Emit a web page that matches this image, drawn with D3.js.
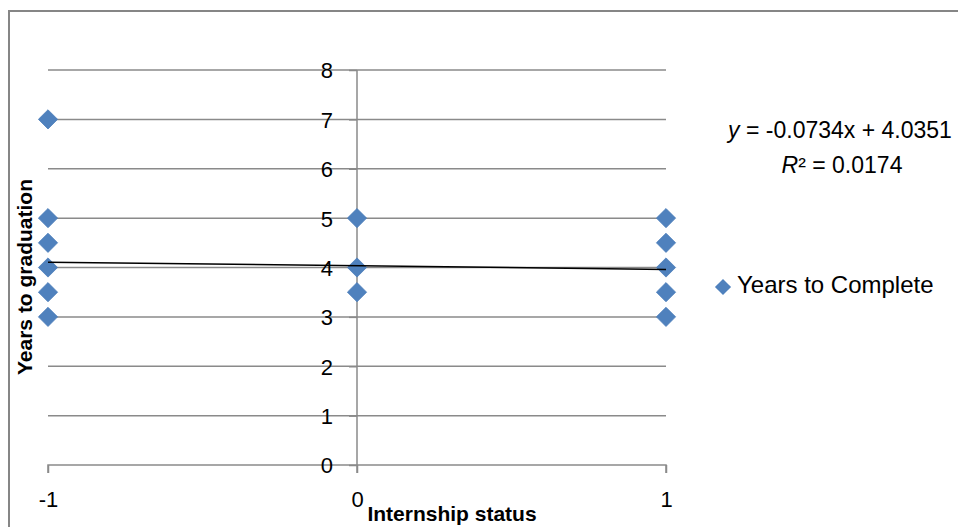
<!DOCTYPE html>
<html>
<head>
<meta charset="utf-8">
<script src="https://cdn.jsdelivr.net/npm/d3@7"></script>
<style>
  html, body { margin: 0; padding: 0; background: #fff; }
  svg { display: block; }
  text { font-family: "Liberation Sans", Arial, sans-serif; fill: #000; }
</style>
</head>
<body>
<svg id="chart" width="958" height="527"></svg>
<script>
// ---- data ----
const internship = [-1, -1, -1, -1, -1, -1, 0, 0, 0, 1, 1, 1, 1, 1];
const years      = [ 7,  5, 4.5, 4, 3.5, 3, 5, 4, 3.5, 5, 4.5, 4, 3.5, 3];
const xTicks = [-1, 0, 1];
const yTicks = [0, 1, 2, 3, 4, 5, 6, 7, 8];
const trendSlope = [-0.0734];
const trendIntercept = [4.0351];
const rSquared = ["0.0174"];
const seriesName = "Years to Complete";
const xTitle = "Internship status";
const yTitle = "Years to graduation";

const svg = d3.select("#chart");
const x = d3.scaleLinear().domain([-1, 1]).range([48, 666]);
const y = d3.scaleLinear().domain([0, 8]).range([465, 70]);
const grid = "#8a8a8a";
const blue = "#4F81BD";

// chart border
svg.append("rect").attr("x", 9).attr("y", 11).attr("width", 1200).attr("height", 1000)
  .attr("fill", "none").attr("stroke", "#868686").attr("stroke-width", 2);

// horizontal gridlines
svg.append("g").selectAll("line").data(yTicks.filter(d => d > 0)).join("line")
  .attr("x1", x(-1)).attr("x2", x(1))
  .attr("y1", d => y(d)).attr("y2", d => y(d))
  .attr("stroke", grid).attr("stroke-width", 1.5);

// x axis (at y = 0) with downward ticks
const xAxis = d3.axisBottom(x).tickValues(xTicks).tickSize(8).tickFormat(d3.format("d"));
const gx = svg.append("g").attr("transform", `translate(0,${y(0)})`).call(xAxis)
  .attr("font-size", 22).attr("font-family", '"Liberation Sans", Arial, sans-serif');
gx.select(".domain").attr("stroke", grid).attr("stroke-width", 1.5).attr("d", `M${x(-1)},8V0H${x(1)}V8`);
gx.selectAll(".tick line").attr("stroke", grid).attr("stroke-width", 1.5);
gx.selectAll(".tick text").attr("y", 0).attr("dy", 42).attr("fill", "#000")
  .text(d => d < 0 ? "-" + Math.abs(d) : d);

// y axis (at x = 0) with left ticks
const yAxis = d3.axisLeft(y).tickValues(yTicks).tickSize(8).tickPadding(16).tickFormat(d3.format("d"));
const gy = svg.append("g").attr("transform", `translate(${x(0)},0)`).call(yAxis)
  .attr("font-size", 22).attr("font-family", '"Liberation Sans", Arial, sans-serif');
gy.select(".domain").attr("stroke", grid).attr("stroke-width", 1.5).attr("d", `M0,${y(8)}V${y(0) + 8}`);
gy.selectAll(".tick line").attr("stroke", grid).attr("stroke-width", 1.5);
gy.selectAll(".tick text").attr("dy", "0.36em").attr("fill", "#000");

// points
const diamond = d3.symbol().type(d3.symbolSquare).size(185);
svg.append("g").selectAll("path").data(internship.map((d, i) => [d, years[i]])).join("path")
  .attr("d", diamond)
  .attr("transform", d => `translate(${x(d[0])},${y(d[1])}) rotate(45)`)
  .attr("fill", blue).attr("stroke", "#4A7DBA").attr("stroke-width", 0.75);

// trend line
const trend = xTicks.filter(d => d !== 0).map(d => [d, trendSlope[0] * d + trendIntercept[0]]);
svg.append("path").datum(trend)
  .attr("d", d3.line().x(d => x(d[0])).y(d => y(d[1])))
  .attr("stroke", "#000").attr("stroke-width", 1.5).attr("fill", "none");

// equation
const eq = svg.append("text").attr("x", 840).attr("y", 138).attr("text-anchor", "middle").style("font-size", "23px");
eq.append("tspan").style("font-style", "italic").text("y");
eq.append("tspan").text(` = ${trendSlope[0]}x + ${trendIntercept[0]}`);
const r2 = svg.append("text").attr("x", 842).attr("y", 173).attr("text-anchor", "middle").style("font-size", "23px");
r2.append("tspan").style("font-style", "italic").text("R");
r2.append("tspan").text(`² = ${rSquared[0]}`);

// legend
svg.append("path").attr("d", d3.symbol().type(d3.symbolSquare).size(130))
  .attr("transform", "translate(723,287) rotate(45)").attr("fill", blue);
svg.append("text").attr("x", 737).attr("y", 293).style("font-size", "24px").text(seriesName);

// axis titles
svg.append("text").attr("x", 452).attr("y", 521).attr("text-anchor", "middle")
  .style("font-size", "21px").style("font-weight", "bold").text(xTitle);
svg.append("text").attr("transform", "translate(32,277) rotate(-90)").attr("text-anchor", "middle")
  .style("font-size", "21px").style("font-weight", "bold").text(yTitle);
</script>
</body>
</html>
